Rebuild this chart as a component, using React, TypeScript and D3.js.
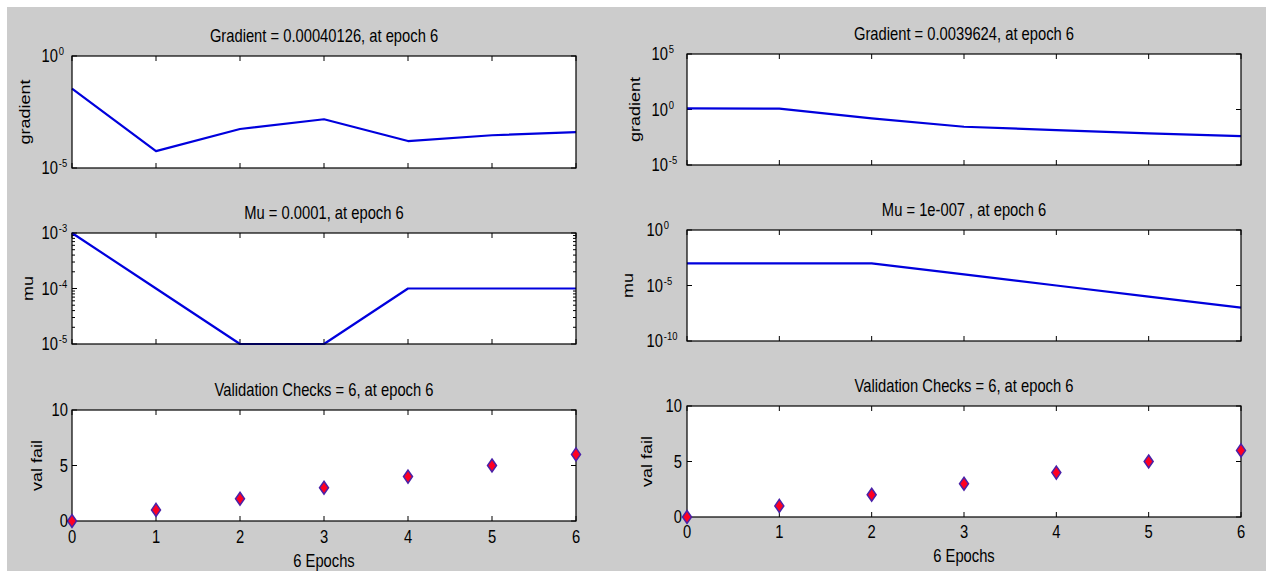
import React from 'react';
import * as d3 from 'd3';

// ---------- data ----------
const epochs = [0, 1, 2, 3, 4, 5, 6];
const xTickLabels = ['0', '1', '2', '3', '4', '5', '6'];

const gradientLeft = [0.035, 5.7e-5, 5.5e-4, 1.5e-3, 1.6e-4, 2.9e-4, 4.0126e-4];
const muLeft = [1e-3, 1e-4, 1e-5, 1e-5, 1e-4, 1e-4, 1e-4];
const valFailLeft = [0, 1, 2, 3, 4, 5, 6];

const gradientRight = [1.25, 1.2, 0.16, 0.028, 0.014, 0.007, 0.0039624];
const muRight = [1e-3, 1e-3, 1e-3, 1e-4, 1e-5, 1e-6, 1e-7];
const valFailRight = [0, 1, 2, 3, 4, 5, 6];

const titlesLeft = [
  'Gradient = 0.00040126, at epoch 6',
  'Mu = 0.0001, at epoch 6',
  'Validation Checks = 6, at epoch 6',
];
const titlesRight = [
  'Gradient = 0.0039624, at epoch 6',
  'Mu = 1e-007 , at epoch 6',
  'Validation Checks = 6, at epoch 6',
];
const yLabels = ['gradient', 'mu', 'val fail'];
const xLabel = '6 Epochs';

const gradLeftExps = [-5, 0];
const muLeftExps = [-5, -4, -3];
const gradRightExps = [-5, 0, 5];
const muRightExps = [-10, -5, 0];
const valTicks = [0, 5, 10];

// ---------- style ----------
const SX = 0.82;
const FONT = 'Liberation Sans, Arial, sans-serif';
const LINE = '#0000dd';
const BG = '#cccccc';

type AxProps = {
  x0: number; x1: number; y0: number; y1: number;
  kind: 'log' | 'lin';
  exps?: number[];
  ticks?: number[];
  minor?: boolean;
  values: number[];
  title: string;
  ylabel: string;
  ylabelX: number;
  tenX: number; // right edge of "10" (log) or labels (lin)
  markers?: boolean;
  xLabels?: boolean;
  xLabelDy?: number;
  xTitleY?: number;
};

function T(props: { x: number; y: number; anchor?: string; size?: number; rotate?: boolean; children: any }) {
  const { x, y, anchor = 'start', size = 18, rotate = false, children } = props;
  return (
    <text
      transform={`translate(${x},${y}) scale(${SX},1)${rotate ? ' rotate(-90)' : ''}`}
      textAnchor={anchor}
      fontSize={size}
      fontFamily={FONT}
      fill="#000"
    >
      {children}
    </text>
  );
}

function Axes(p: AxProps) {
  const x = d3.scaleLinear().domain([0, 6]).range([p.x0, p.x1]);
  let y: any;
  if (p.kind === 'log') {
    const e = p.exps!;
    y = d3.scaleLog().domain([Math.pow(10, e[0]), Math.pow(10, e[e.length - 1])]).range([p.y1, p.y0]);
  } else {
    y = d3.scaleLinear().domain([0, 10]).range([p.y1, p.y0]);
  }
  const line = d3.line<number>().x((_, i) => x(epochs[i])).y((d) => y(d));
  const cx = (p.x0 + p.x1) / 2;
  const cy = (p.y0 + p.y1) / 2;
  const TL = 5;

  const majorVals: number[] = p.kind === 'log' ? p.exps!.map((e) => Math.pow(10, e)) : p.ticks!;
  const minorVals: number[] = [];
  if (p.kind === 'log' && p.minor) {
    const e = p.exps!;
    for (let d = e[0]; d < e[e.length - 1]; d++) {
      for (let m = 2; m <= 9; m++) minorVals.push(m * Math.pow(10, d));
    }
  }

  return (
    <g>
      <rect x={p.x0} y={p.y0} width={p.x1 - p.x0} height={p.y1 - p.y0} fill="#fff" />
      {/* x ticks */}
      {epochs.map((e) => (
        <g key={'xt' + e}>
          <line x1={x(e)} x2={x(e)} y1={p.y1} y2={p.y1 - TL} stroke="#000" strokeWidth={1} />
          <line x1={x(e)} x2={x(e)} y1={p.y0} y2={p.y0 + TL} stroke="#000" strokeWidth={1} />
        </g>
      ))}
      {/* y ticks */}
      {majorVals.map((v, i) => (
        <g key={'yt' + i}>
          <line x1={p.x0} x2={p.x0 + TL} y1={y(v)} y2={y(v)} stroke="#000" strokeWidth={1} />
          <line x1={p.x1} x2={p.x1 - TL} y1={y(v)} y2={y(v)} stroke="#000" strokeWidth={1} />
        </g>
      ))}
      {minorVals.map((v, i) => (
        <g key={'ym' + i}>
          <line x1={p.x0} x2={p.x0 + 3} y1={y(v)} y2={y(v)} stroke="#000" strokeWidth={1} />
          <line x1={p.x1} x2={p.x1 - 3} y1={y(v)} y2={y(v)} stroke="#000" strokeWidth={1} />
        </g>
      ))}
      {/* data */}
      {!p.markers && (
        <path d={line(p.values) || ''} fill="none" stroke={LINE} strokeWidth={2.2} strokeLinejoin="round" />
      )}
      <rect x={p.x0} y={p.y0} width={p.x1 - p.x0} height={p.y1 - p.y0} fill="none" stroke="#000" strokeWidth={1.2} />
      {p.markers &&
        p.values.map((v, i) => {
          const px = x(epochs[i]);
          const py = y(v);
          const d = `M${px},${py - 6.5}L${px + 4.5},${py}L${px},${py + 6.5}L${px - 4.5},${py}Z`;
          return <path key={'m' + i} d={d} fill="#ff0022" stroke="#4a22a8" strokeWidth={1.5} />;
        })}
      {/* y tick labels */}
      {p.kind === 'log'
        ? p.exps!.map((e) => {
            const ty = y(Math.pow(10, e));
            return (
              <g key={'yl' + e} transform={`translate(${p.tenX},${ty}) scale(${SX},1)`}>
                <text x={0} y={6} textAnchor="end" fontSize={18} fontFamily={FONT} fill="#000">10</text>
                <text x={1} y={-1} textAnchor="start" fontSize={11.5} fontFamily={FONT} fill="#000">{String(e)}</text>
              </g>
            );
          })
        : p.ticks!.map((t) => (
            <T key={'yl' + t} x={p.tenX} y={y(t) + 6} anchor="end">{String(t)}</T>
          ))}
      {/* x tick labels */}
      {p.xLabels &&
        epochs.map((e, i) => (
          <T key={'xl' + e} x={x(e)} y={p.y1 + (p.xLabelDy || 22)} anchor="middle">{xTickLabels[i]}</T>
        ))}
      {p.xLabels && (
        <T x={cx} y={p.xTitleY || p.y1 + 46} anchor="middle">{xLabel}</T>
      )}
      {/* title */}
      <T x={cx} y={p.y0 - 14} anchor="middle">{p.title}</T>
      {/* y label */}
      <T x={p.ylabelX} y={cy} anchor="middle" rotate>{p.ylabel}</T>
    </g>
  );
}

export default function App() {
  const W = 1266;
  const H = 571;
  const L = { x0: 72, x1: 576 };
  const R = { x0: 687, x1: 1241 };
  return (
    <svg width={W} height={H} style={{ position: 'absolute', left: 0, top: 0 }}>
      <rect x={0} y={0} width={W} height={H} fill={BG} />
      <rect x={0} y={0} width={W} height={7} fill="#fff" />
      <rect x={0} y={0} width={7} height={H} fill="#fff" />

      {/* left column */}
      <Axes {...L} y0={56} y1={168} kind="log" exps={gradLeftExps} values={gradientLeft}
        title={titlesLeft[0]} ylabel={yLabels[0]} ylabelX={30} tenX={58} />
      <Axes {...L} y0={233} y1={344} kind="log" exps={muLeftExps} minor values={muLeft}
        title={titlesLeft[1]} ylabel={yLabels[1]} ylabelX={33} tenX={58} />
      <Axes {...L} y0={410} y1={521} kind="lin" ticks={valTicks} values={valFailLeft} markers
        title={titlesLeft[2]} ylabel={yLabels[2]} ylabelX={42} tenX={68} xLabels xLabelDy={22} xTitleY={567} />

      {/* right column */}
      <Axes {...R} y0={54} y1={165} kind="log" exps={gradRightExps} values={gradientRight}
        title={titlesRight[0]} ylabel={yLabels[0]} ylabelX={640} tenX={668} />
      <Axes {...R} y0={230} y1={341} kind="log" exps={muRightExps} values={muRight}
        title={titlesRight[1]} ylabel={yLabels[1]} ylabelX={633} tenX={663} />
      <Axes {...R} y0={406} y1={517} kind="lin" ticks={valTicks} values={valFailRight} markers
        title={titlesRight[2]} ylabel={yLabels[2]} ylabelX={652} tenX={682} xLabels xLabelDy={21} xTitleY={562} />
    </svg>
  );
}
